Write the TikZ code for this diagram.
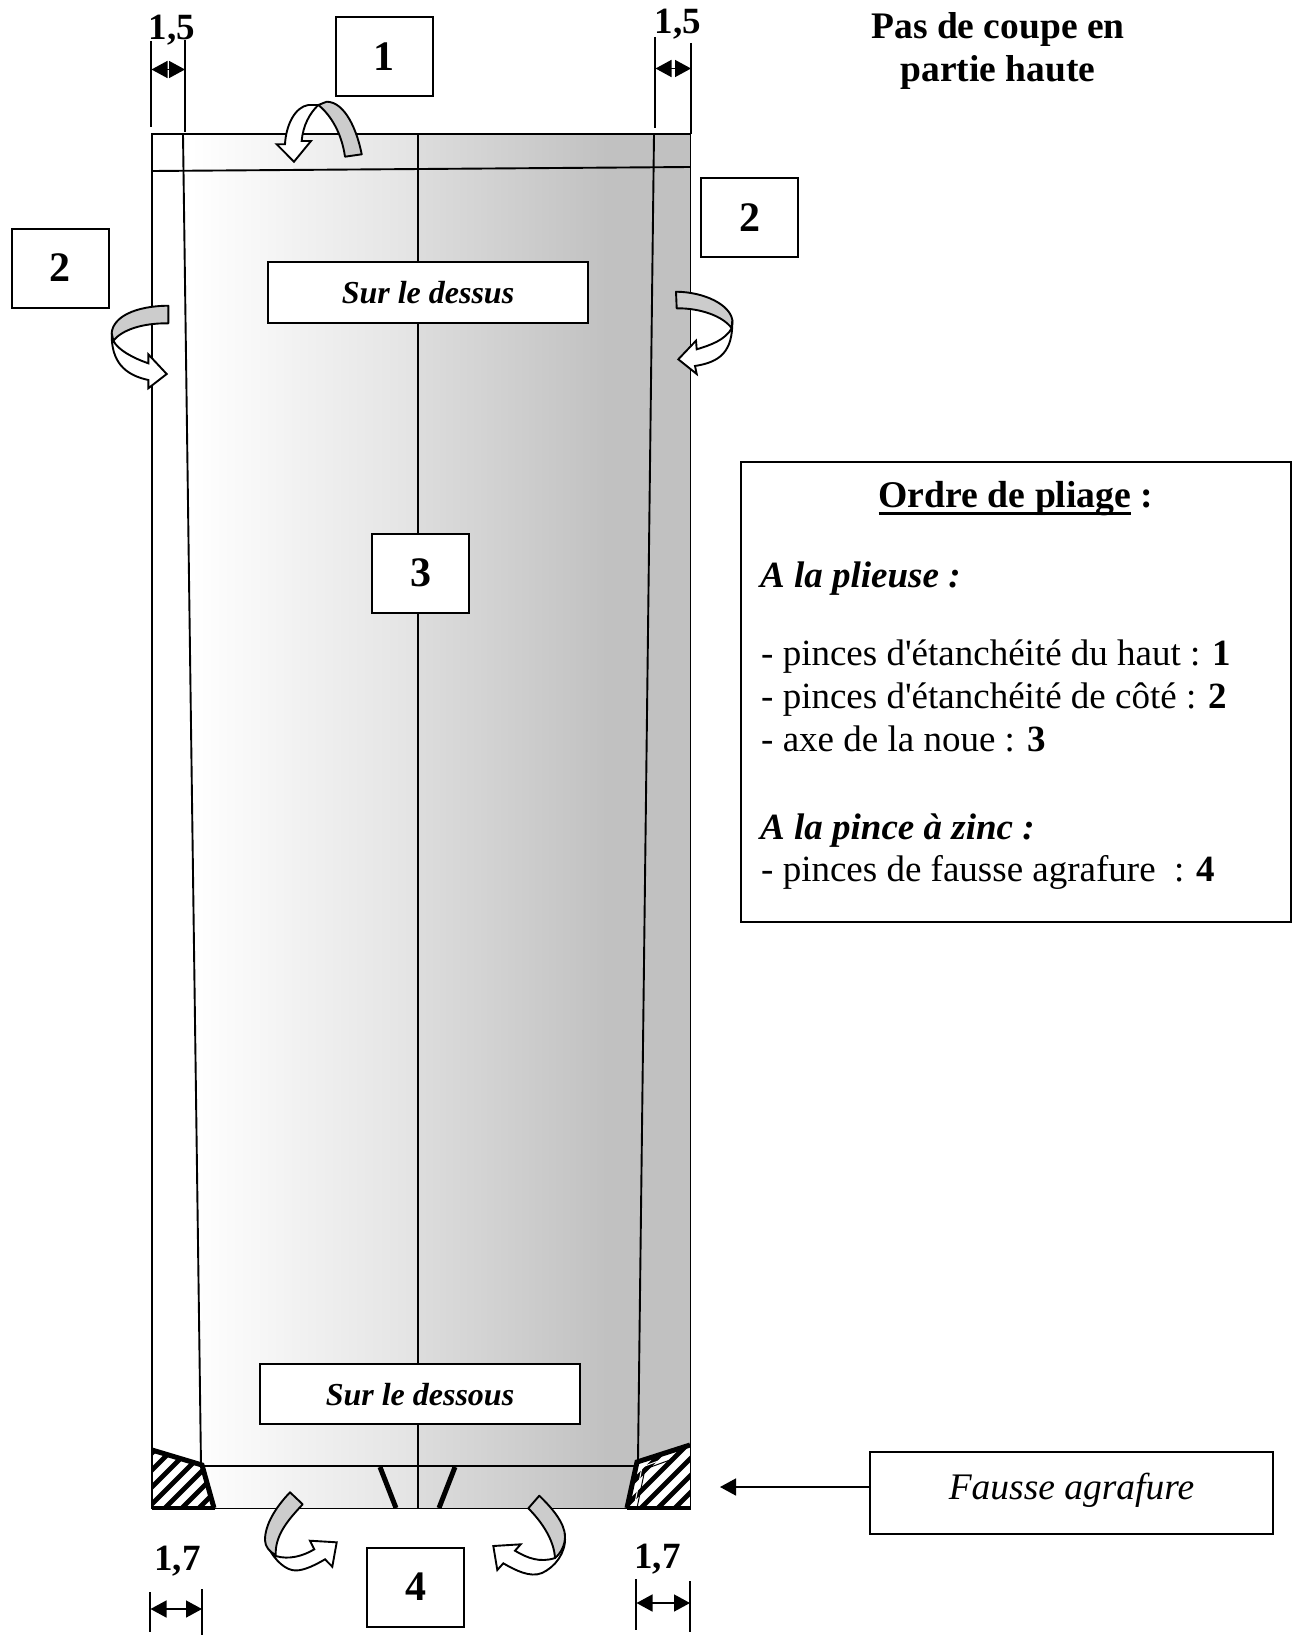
\documentclass[tikz,border=0pt]{standalone}
\usepackage{fontspec}
\setmainfont{Liberation Serif}
\newfontfamily\plainf{Liberation Serif}
\usetikzlibrary{arrows.meta}
\definecolor{gmidL}{gray}{0.89}
\definecolor{gmidR}{gray}{0.865}
\definecolor{gend}{gray}{0.755}
\newcommand{\fsz}[1]{\fontsize{#1}{#1}\selectfont}
\newcommand{\ulbox}[1]{\setbox0\hbox{#1}\rlap{\rule[-7.5pt]{\wd0}{2.6pt}}\box0\relax}
\newcommand{\apos}{{\plainf\char39\relax}}
\tikzset{
  edge/.style={draw=black,line width=1.9pt},
  thick pince/.style={line width=5pt,draw=black},
  numbox/.style={draw=black,line width=2pt,fill=white,inner sep=0pt,outer sep=0pt,minimum width=97pt,minimum height=79pt,font=\fsz{42}\bfseries},
  capbox/.style={draw=black,line width=2pt,fill=white,inner sep=0pt,outer sep=0pt,font=\fsz{32}\bfseries\itshape},
  dimtxt/.style={anchor=base,inner sep=0pt,font=\fsz{37}\bfseries},
  legtxt/.style={anchor=base west,inner sep=0pt,font=\fsz{37}},
  dimline/.style={draw=black,line width=1.9pt},
  dimarrow/.style={draw=black,line width=1.5pt,{Triangle[length=16pt,width=17pt]}-{Triangle[length=16pt,width=17pt]}},
  bandgray/.style={draw=black,line width=1.9pt,fill=black!20,line join=round},
  bandwhite/.style={draw=black,line width=1.9pt,fill=white,line join=miter},
}
\begin{document}
\begin{tikzpicture}[x=1pt,y=-1pt]
\useasboundingbox (0,0) rectangle (1296,1635);
% sheet shading
\shade[left color=white,right color=gmidL,draw=none] (190,134) rectangle (418,1508);
\shade[left color=gmidR,right color=gend,draw=none] (418,134) rectangle (610,1508);
\fill[gend] (610,134) rectangle (690,1508);
% hatching
\begin{scope}
\clip (152,1450) -- (202,1465) -- (215,1508) -- (152,1508) -- cycle;
\foreach \k in {0,...,7} {\draw[line width=4.8pt,black] ({93+17*\k},1512) -- ++(100,-100);}
\end{scope}
\fill[white] (690,1445) -- (636,1462) -- (627,1508) -- (690,1508) -- cycle;
\begin{scope}
\clip (690,1445) -- (636,1462) -- (627,1508) -- (690,1508) -- cycle;
\foreach \k in {0,...,7} {\draw[line width=4.8pt,black] ({586+17*\k},1512) -- ++(100,-100);}
\end{scope}
% sheet lines
\draw[edge] (152,134) rectangle (690.5,1508.5);
\draw[edge] (152,171) -- (690.5,167);
\draw[edge] (183,134) -- (201,1465);
\draw[edge] (654,134) -- (638,1460);
\draw[edge] (418,134) -- (418,1508);
\draw[edge] (201,1466) -- (636,1466);
% thick pleats
\draw[thick pince] (152,1450) -- (202,1465) -- (214,1508);
\draw[thick pince] (690,1445) -- (637,1462) -- (627,1508);
\draw[line width=1pt,white] (634,1508) -- (642,1467) -- (672,1456);
\draw[line width=1pt,black] (637,1508) -- (645,1469) -- (670,1460);
\draw[thick pince] (380,1467) -- (396,1508);
\draw[thick pince] (455,1467) -- (439,1508);
\draw[line width=3.5pt,black] (152,1508) -- (215,1508);
\draw[line width=3.5pt,black] (627,1508) -- (690.5,1508);
% boxes
\node[numbox] (one) at (384,57) {1};
\node[numbox] (twoL) at (60,268) {2};
\node[numbox] (twoR) at (749.5,217.5) {2};
\node[numbox] (three) at (420.5,573) {3};
\node[numbox] (four) at (415.5,1587) {4};
\node[capbox,minimum width=320pt,minimum height=61pt] (dessus) at (428,292.5) {Sur le dessus};
\node[capbox,minimum width=320pt,minimum height=60pt] (dessous) at (420,1394) {\raisebox{-11pt}[0pt][0pt]{Sur le dessous}};
\node[draw=black,line width=2pt,fill=white,inner sep=0pt,outer sep=0pt,minimum width=403pt,minimum height=82pt,font=\fsz{37.5}\itshape] (fausse) at (1071.5,1493) {\raisebox{-6pt}[0pt][0pt]{Fausse agrafure}};
\node[draw=black,line width=2pt,fill=white,inner sep=0pt,outer sep=0pt,minimum width=550pt,minimum height=460pt] (legend) at (1016,692) {};
% legend text
\node[anchor=base,inner sep=0pt,font=\fsz{37.7}\bfseries] (t0) at (1016,507) {\ulbox{Ordre de pliage} :};
\node[legtxt,font=\fsz{37}\bfseries\itshape] (t1) at (760,587) {A la plieuse :};
\node[legtxt] (t2) at (761,665) {- pinces d\apos étanchéité du haut : \textbf{1}};
\node[legtxt] (t3) at (761,708) {- pinces d\apos étanchéité de côté : \textbf{2}};
\node[legtxt] (t4) at (761,751) {- axe de la noue : \textbf{3}};
\node[legtxt,font=\fsz{37}\bfseries\itshape] (t5) at (760,839) {A la pince à zinc :};
\node[legtxt] (t6) at (761,881) {- pinces de fausse agrafure~ : \textbf{4}};
% title
\node[anchor=base,inner sep=0pt,font=\fsz{37.5}\bfseries] (title1) at (998,39) {Pas de coupe en};
\node[anchor=base,inner sep=0pt,font=\fsz{37.5}\bfseries] (title2) at (998,82) {partie haute};
% dimension labels
\node[dimtxt] (d1) at (172,40) {1,5};
\node[dimtxt] (d2) at (678,34) {1,5};
\node[dimtxt] (d3) at (177.5,1570) {1,7};
\node[dimtxt] (d4) at (657.5,1568.5) {1,7};
% dimension lines
\coordinate (a1t) at (151,41); \coordinate (a1b) at (151,127);
\coordinate (b1t) at (185,40); \coordinate (b1b) at (185,132);
\draw[dimline] (a1t) -- (a1b); \draw[dimline] (b1t) -- (b1b);
\coordinate (a1m) at (151.5,69.5); \coordinate (b1m) at (185,69.5);
\draw[dimarrow] (a1m) -- (b1m);
\coordinate (a2t) at (655,37); \coordinate (a2b) at (655,128);
\coordinate (b2t) at (691,43); \coordinate (b2b) at (691,134);
\draw[dimline] (a2t) -- (a2b); \draw[dimline] (b2t) -- (b2b);
\coordinate (a2m) at (655.5,68.5); \coordinate (b2m) at (691,68.5);
\draw[dimarrow] (a2m) -- (b2m);
\coordinate (a3t) at (150,1592); \coordinate (a3b) at (150,1632);
\coordinate (b3t) at (202,1589); \coordinate (b3b) at (202,1635);
\draw[dimline] (a3t) -- (a3b); \draw[dimline] (b3t) -- (b3b);
\coordinate (a3m) at (150.5,1609); \coordinate (b3m) at (202,1609);
\draw[dimarrow] (a3m) -- (b3m);
\coordinate (a4t) at (636,1579); \coordinate (a4b) at (636,1630);
\coordinate (b4t) at (690,1581); \coordinate (b4b) at (690,1632);
\draw[dimline] (a4t) -- (a4b); \draw[dimline] (b4t) -- (b4b);
\coordinate (a4m) at (636.5,1603); \coordinate (b4m) at (690,1603);
\draw[dimarrow] (a4m) -- (b4m);
% Fausse agrafure pointer
\coordinate (ftip) at (720,1487);
\draw[draw=black,line width=1.5pt,-{Triangle[length=16pt,width=17pt]}] (fausse.west |- ftip) -- (ftip);
% fold arrow 1 (top)
\draw[bandwhite] (318.3,105) -- (308.3,105) .. controls (295,107) and (286,125) .. (285,144.3) -- (276.7,144.3) -- (294,161.7) -- (311,141) -- (301.7,141) .. controls (303,125) and (310,113) .. (318.3,105) -- cycle;
\draw[bandgray] (345,156.7) -- (361.7,154.3) .. controls (357,130) and (345,102) .. (326.7,101.7) -- (318.3,105) .. controls (332,116) and (342,135) .. (345,156.7) -- cycle;
% fold arrow 2 left
\draw[bandwhite] (113.3,340.7) .. controls (118,350) and (133,358) .. (148.3,363.3) -- (148.3,354.3) -- (166.7,374) -- (148.3,388.3) -- (148.3,380) .. controls (125,375) and (111,362) .. (111.7,333) -- cycle;
\draw[bandgray] (168.3,305.7) -- (168.3,323.3) .. controls (142,323) and (122,330) .. (113.3,340.7) -- (111.7,333) .. controls (113,317) and (135,306) .. (168.3,305.7) -- cycle;
% fold arrow 2 right
\draw[bandwhite] (731.7,328.3) .. controls (725,340) and (711,345) .. (696.7,349.3) -- (696,340.7) -- (678.3,359.3) -- (696.7,374) -- (695,366) .. controls (720,362) and (733,352) .. (732.3,320) -- cycle;
\draw[bandgray] (676,291.7) -- (676.7,308.3) .. controls (700,308) and (723,316) .. (731.7,328.3) -- (732.3,320) .. controls (730,305) and (705,292) .. (676,291.7) -- cycle;
% fold arrow 4 left
\draw[bandwhite] (275.7,1556) .. controls (289,1560) and (303,1556) .. (314.3,1549.3) -- (310,1540.7) -- (336.7,1542.3) -- (332.3,1566.7) -- (325,1559.3) .. controls (312,1567) and (300,1572) .. (292,1570) .. controls (283,1568) and (272,1558) .. (265,1540) -- cycle;
\draw[bandgray] (290,1492.3) -- (302.7,1504.3) .. controls (288,1520) and (275,1535) .. (275.7,1555) .. controls (270,1552) and (265,1547) .. (265,1540) .. controls (265,1525) and (275,1508) .. (290,1492.3) -- cycle;
% fold arrow 4 right
\draw[bandwhite] (555,1558) .. controls (540,1563) and (527,1558) .. (515,1550.7) -- (520.7,1544.3) -- (493.3,1546) -- (497.3,1570) -- (503.3,1563.3) .. controls (515,1570) and (530,1578) .. (542,1573) .. controls (555,1567) and (566,1553) .. (565,1536.7) -- cycle;
\draw[bandgray] (539.3,1495.7) -- (528.3,1508.3) .. controls (542,1522) and (554,1540) .. (555,1558) .. controls (561,1553) and (565,1545) .. (565,1536.7) .. controls (565,1523) and (552,1508) .. (539.3,1495.7) -- cycle;
\end{tikzpicture}
\end{document}
